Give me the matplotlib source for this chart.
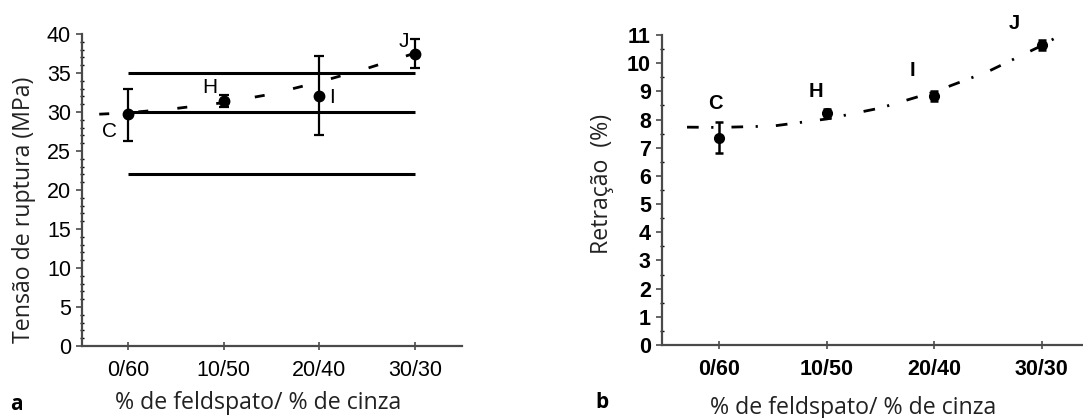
import matplotlib
matplotlib.use("Agg")
import matplotlib.pyplot as plt
from matplotlib.ticker import MultipleLocator

# ---------------- data ----------------
categories = ["0/60", "10/50", "20/40", "30/30"]
point_names = ["C", "H", "I", "J"]

# panel a: tensile strength (MPa)
tensao_mean = [29.7, 31.4, 32.1, 37.5]
tensao_err_low = [3.4, 0.7, 5.0, 1.9]
tensao_err_high = [3.3, 0.8, 5.1, 1.9]
tensao_ref_levels = [35, 30, 22]
tensao_trend_x = [-0.3, 0.0, 0.5, 1.0, 1.5, 2.0, 2.5, 3.0]
tensao_trend_y = [29.72, 29.9, 30.45, 31.2, 32.3, 33.85, 35.6, 37.55]
tensao_label_x = [-0.19, 0.86, 2.13, 2.88]
tensao_label_y = [27.5, 33.1, 31.8, 39.0]

# panel b: shrinkage (%)
retracao_mean = [7.36, 8.22, 8.84, 10.66]
retracao_err = [0.55, 0.15, 0.18, 0.18]
retracao_trend_x = [-0.3, 0.0, 0.5, 1.0, 1.5, 2.0, 2.5, 3.0, 3.2]
retracao_trend_y = [7.73, 7.72, 7.77, 8.02, 8.41, 8.98, 9.7, 10.62, 11.05]
retracao_label_x = [-0.04, 0.9, 1.8, 2.75]
retracao_label_y = [8.57, 8.98, 9.75, 11.41]

# ---------------- figure ----------------
W, H = 1083, 418
fig = plt.figure(figsize=(W / 100, H / 100), dpi=100)
fig.patch.set_facecolor("white")

tick_font = "Liberation Sans"
label_font = "Open Sans"
spine_col = "#4a4a4a"
x = list(range(len(categories)))


def px_axes(left, top, right, bottom):
    return [left / W, 1 - bottom / H, (right - left) / W, (bottom - top) / H]


def style_axes(ax, bold):
    for s in ["top", "right"]:
        ax.spines[s].set_visible(False)
    for s in ["left", "bottom"]:
        ax.spines[s].set_color(spine_col)
        ax.spines[s].set_linewidth(1.6)
    ax.set_xticks(x)
    ax.set_xticklabels(categories)
    ax.tick_params(axis="both", colors=spine_col, width=1.2, labelcolor="black")
    ax.tick_params(axis="y", which="major", direction="out", length=4, pad=4)
    ax.tick_params(axis="y", which="minor", direction="inout", length=3, width=1.0)
    ax.tick_params(axis="x", which="major", direction="inout", length=6, pad=7)
    for lab in ax.get_xticklabels() + ax.get_yticklabels():
        lab.set_fontfamily(tick_font)
        lab.set_fontsize(15.5)
        lab.set_fontweight("bold" if bold else "normal")
    ax.set_facecolor("white")


# ----- panel a -----
axa = fig.add_axes(px_axes(82, 34, 462, 346))
axa.set_xlim(-0.48, 3.49)
axa.set_ylim(0, 40)
axa.yaxis.set_major_locator(MultipleLocator(5))
axa.yaxis.set_minor_locator(MultipleLocator(1))
style_axes(axa, False)

axa.hlines(tensao_ref_levels, x[0], x[-1], colors="black", linewidth=2.2, zorder=2)
axa.plot(tensao_trend_x, tensao_trend_y, color="black", linewidth=2.0,
         linestyle=(0, (3.6, 10.5)), zorder=3)
axa.errorbar(x, tensao_mean, yerr=[tensao_err_low, tensao_err_high], fmt="o",
             color="black", markersize=7.5, elinewidth=1.6, capsize=3.5,
             capthick=1.6, zorder=4)
for nm, lx, ly in zip(point_names, tensao_label_x, tensao_label_y):
    axa.text(lx, ly, nm, fontsize=15, family=tick_font, ha="center",
             va="center", color="black")

# ----- panel b -----
axb = fig.add_axes(px_axes(662, 35, 1083, 345))
axb.set_xlim(-0.533, 3.386)
axb.set_ylim(0, 11)
axb.yaxis.set_major_locator(MultipleLocator(1))
axb.yaxis.set_minor_locator(MultipleLocator(0.5))
style_axes(axb, True)

axb.plot(retracao_trend_x, retracao_trend_y, color="black", linewidth=2.0,
         linestyle=(0, (4.2, 4.5, 0.8, 6.5)), zorder=3, clip_on=False)
axb.errorbar(x, retracao_mean, yerr=retracao_err, fmt="o", color="black",
             markersize=7, elinewidth=1.8, capsize=3, capthick=1.8, zorder=4)
for nm, lx, ly in zip(point_names, retracao_label_x, retracao_label_y):
    axb.text(lx, ly, nm, fontsize=14.5, family=tick_font, fontweight="bold",
             ha="center", va="center", color="black", clip_on=False)

# ----- axis titles and panel letters -----
lab_size = 16.7
fig.text(24 / W, 1 - 210 / H, "Tensão de ruptura (MPa)", rotation=90,
         ha="center", va="center", fontsize=lab_size, family=label_font, color="#222222")
fig.text(258 / W, 1 - 403 / H, "% de feldspato/ % de cinza", ha="center",
         va="center", fontsize=lab_size, family=label_font, color="#222222")
fig.text(602 / W, 1 - 184 / H, "Retração  (%)", rotation=90, ha="center",
         va="center", fontsize=lab_size, family=label_font, color="#222222")
fig.text(853 / W, 1 - 408 / H, "% de feldspato/ % de cinza", ha="center",
         va="center", fontsize=lab_size, family=label_font, color="#222222")
fig.text(16 / W, 1 - 404 / H, "a", ha="center", va="center", fontsize=15,
         family=label_font, fontweight="bold", color="black")
fig.text(602 / W, 1 - 402 / H, "b", ha="center", va="center", fontsize=15,
         family=label_font, fontweight="bold", color="black")

fig.savefig("out.png", dpi=100, facecolor="white")
